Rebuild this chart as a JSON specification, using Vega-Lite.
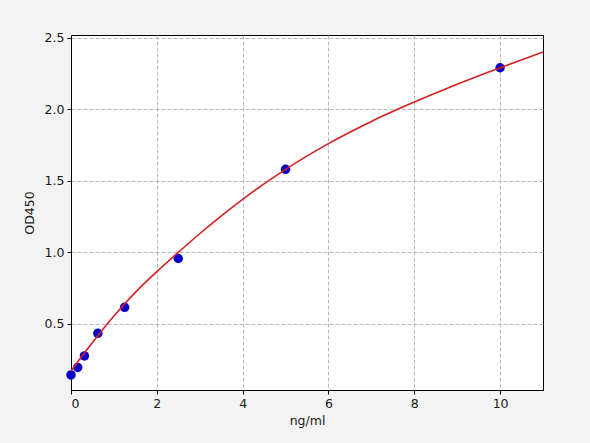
{
  "$schema": "https://vega.github.io/schema/vega-lite/v6.json",
  "autosize": "none",
  "padding": {"left": 71, "top": 35, "right": 47, "bottom": 53},
  "width": 472,
  "height": 355,
  "background": "#f3f3f3",
  "config": {
    "view": {"fill": "white", "stroke": "black", "strokeWidth": 1},
    "font": "DejaVu Sans",
    "axis": {
      "labelFont": "DejaVu Sans",
      "titleFont": "DejaVu Sans",
      "labelFontSize": 12.5,
      "titleFontSize": 12.5,
      "titleFontWeight": "normal",
      "labelColor": "#1a1a1a",
      "titleColor": "#1a1a1a",
      "domain": true,
      "domainColor": "black",
      "domainWidth": 1,
      "tickColor": "black",
      "tickSize": 4,
      "gridColor": "#b0b0b0",
      "gridDash": [4, 2],
      "gridWidth": 0.9
    }
  },
  "datasets": {
    "points": [
      {"conc": 0, "od": 0.143},
      {"conc": 0.156, "od": 0.196},
      {"conc": 0.3125, "od": 0.276},
      {"conc": 0.625, "od": 0.434},
      {"conc": 1.25, "od": 0.616},
      {"conc": 2.5, "od": 0.957},
      {"conc": 5, "od": 1.58},
      {"conc": 10, "od": 2.29}
    ],
    "curve": [
      {"conc": 0, "od": 0.17},
      {"conc": 0.25, "od": 0.272},
      {"conc": 0.5, "od": 0.37},
      {"conc": 0.75, "od": 0.465},
      {"conc": 1, "od": 0.555},
      {"conc": 1.5, "od": 0.72},
      {"conc": 2, "od": 0.865},
      {"conc": 2.5, "od": 1.0},
      {"conc": 3, "od": 1.13},
      {"conc": 4, "od": 1.37},
      {"conc": 5, "od": 1.58},
      {"conc": 6, "od": 1.76},
      {"conc": 7, "od": 1.915},
      {"conc": 8, "od": 2.05},
      {"conc": 9, "od": 2.175},
      {"conc": 10, "od": 2.29},
      {"conc": 11, "od": 2.40}
    ]
  },
  "encoding": {
    "x": {
      "field": "conc", "type": "quantitative", "title": "ng/ml",
      "scale": {"domain": [0, 11], "nice": false, "zero": false},
      "axis": {"values": [0, 2, 4, 6, 8, 10], "format": "d", "titlePadding": 5, "labelPadding": 3}
    },
    "y": {
      "field": "od", "type": "quantitative", "title": "OD450",
      "scale": {"domain": [0.038, 2.519], "nice": false, "zero": false},
      "axis": {"values": [0.5, 1, 1.5, 2, 2.5], "format": ".1f", "titlePadding": 8, "labelPadding": 3}
    }
  },
  "layer": [
    {
      "data": {"name": "points"},
      "mark": {"type": "point", "filled": true, "size": 90, "color": "#0800c8", "opacity": 1}
    },
    {
      "data": {"name": "curve"},
      "mark": {"type": "line", "color": "#d42020", "strokeWidth": 1.6, "interpolate": "monotone"}
    }
  ]
}
